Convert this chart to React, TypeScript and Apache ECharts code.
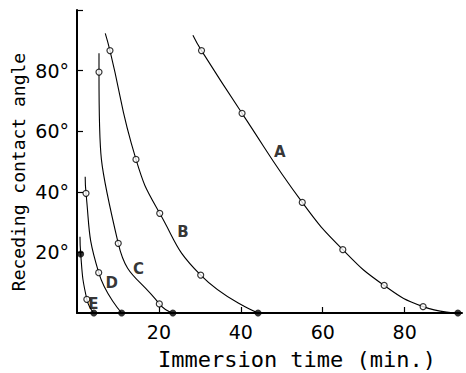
import React, { useEffect, useRef } from "react";
import * as echarts from "echarts";

// Curve data: [immersion time (min), receding contact angle (deg)]
const curveATop = [28.3, 91.7];
const curveAOpen = [[30.4, 86.6], [40.3, 65.9], [55.0, 36.5], [64.9, 20.9], [75.0, 9.1], [84.5, 2.1]];
const curveAEnd = [93.0, 0];

const curveBTop = [6.9, 92.3];
const curveBOpen = [[8.05, 86.6], [14.4, 50.7], [20.2, 32.9], [30.2, 12.5]];
const curveBEnd = [44.2, 0];

const curveCTop = [5.37, 85.7];
const curveCOpen = [[5.37, 79.5], [10.07, 23.0], [20.1, 3.0]];
const curveCEnd = [23.4, 0];

const curveDTop = [2.0, 45.0];
const curveDOpen = [[2.2, 39.5], [5.3, 13.3]];
const curveDEnd = [10.9, 0];

const curveETop = [0.73, 25.2];
const curveEFilledTop = [0.9, 19.5];
const curveEOpen = [[2.4, 4.5]];
const curveEEnd = [4.1, 0];

const curveLabels = [
  { name: "A", value: [49.5, 53.2] },
  { name: "B", value: [25.9, 26.8] },
  { name: "C", value: [15.0, 14.4] },
  { name: "D", value: [8.5, 10.0] },
  { name: "E", value: [4.0, 3.0] },
];

const xTicks = [20, 40, 60, 80];
const yTicks = [20, 40, 60, 80, 100];
const yLabels = [20, 40, 60, 80];

const xName = "Immersion time (min.)";
const yName = "Receding contact angle";

export default function App() {
  const ref = useRef<HTMLDivElement>(null);
  useEffect(() => {
    if (!ref.current) return;
    const chart = echarts.init(ref.current, null, { renderer: "svg" });
    const lineStyle = { color: "#000", width: 1.1 };
    const curves = [
      [curveATop, ...curveAOpen, curveAEnd],
      [curveBTop, ...curveBOpen, curveBEnd],
      [curveCTop, ...curveCOpen, curveCEnd],
      [curveDTop, ...curveDOpen, curveDEnd],
      [curveETop, curveEFilledTop, ...curveEOpen, curveEEnd],
    ];
    const lineSeries = curves.map((d) => ({
      type: "line",
      data: d,
      smooth: 0.5,
      showSymbol: false,
      lineStyle,
      silent: true,
      z: 2,
    }));
    const openPts = [...curveAOpen, ...curveBOpen, ...curveCOpen, ...curveDOpen, ...curveEOpen];
    const filledPts = [curveAEnd, curveBEnd, curveCEnd, curveDEnd, curveEEnd, curveEFilledTop];
    const font = "DejaVu Sans";
    const mono = "DejaVu Sans Mono";
    chart.setOption({
      animation: false,
      grid: { left: 77, right: 4, top: 10, bottom: 60, containLabel: false },
      xAxis: {
        type: "value",
        min: 0,
        max: 94,
        splitLine: { show: false },
        axisLine: { onZero: false, lineStyle: { color: "#000", width: 2 } },
        axisTick: { inside: true, length: 6, customValues: xTicks, lineStyle: { color: "#000", width: 1.2 } },
        axisLabel: {
          customValues: xTicks,
          color: "#000",
          fontFamily: font,
          fontSize: 19,
          margin: 9,
        },
      },
      yAxis: {
        type: "value",
        min: 0,
        max: 100,
        splitLine: { show: false },
        axisLine: { onZero: false, lineStyle: { color: "#000", width: 2 } },
        axisTick: { inside: true, length: 6, customValues: yTicks, lineStyle: { color: "#000", width: 1.2 } },
        axisLabel: {
          customValues: yLabels,
          color: "#000",
          fontFamily: font,
          fontSize: 19,
          margin: 8,
          formatter: (v: number) => v + "°",
        },
      },
      graphic: [
        {
          type: "text",
          x: 297,
          y: 359,
          style: {
            text: xName,
            fill: "#000",
            font: `22px "${mono}"`,
            textAlign: "center",
            textVerticalAlign: "middle",
          },
        },
        {
          type: "text",
          x: 18,
          y: 172,
          rotation: Math.PI / 2,
          style: {
            text: yName,
            fill: "#000",
            font: `18px "${mono}"`,
            textAlign: "center",
            textVerticalAlign: "middle",
          },
        },
      ],
      series: [
        ...lineSeries,
        {
          type: "scatter",
          data: openPts,
          symbol: "circle",
          symbolSize: 6,
          itemStyle: { color: "#fff", borderColor: "#000", borderWidth: 1.2 },
          z: 3,
        },
        {
          type: "scatter",
          data: filledPts,
          symbol: "circle",
          symbolSize: 7,
          itemStyle: { color: "#000" },
          z: 3,
        },
        {
          type: "scatter",
          data: curveLabels,
          symbolSize: 0,
          label: {
            show: true,
            position: "inside",
            formatter: (p: any) => p.name,
            color: "#000",
            fontFamily: font,
            fontSize: 15,
            fontWeight: "bold",
          },
          z: 4,
        },
      ],
    });
    return () => chart.dispose();
  }, []);
  return (
    <div style={{ position: "fixed", left: 0, top: 0, width: 466, height: 373, background: "#fff" }}>
      <div ref={ref} style={{ width: 466, height: 373 }} />
    </div>
  );
}
